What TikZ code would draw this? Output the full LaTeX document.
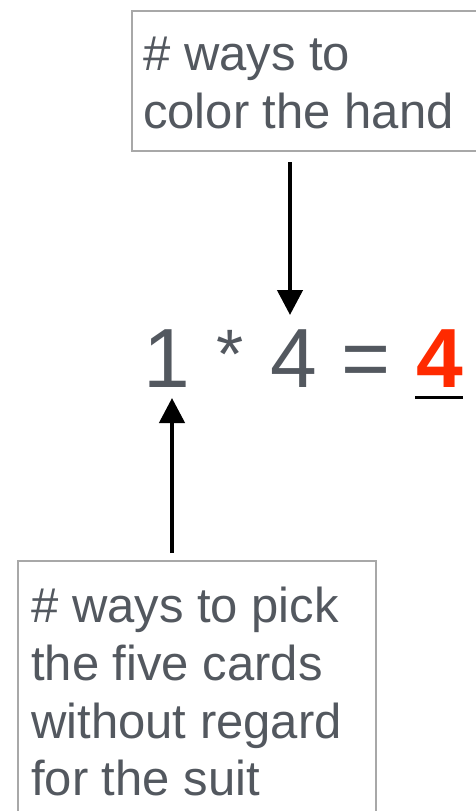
\documentclass[tikz,border=0pt]{standalone}
\usepackage{fontspec}
\setmainfont{Liberation Sans}
\usetikzlibrary{arrows.meta}
\definecolor{txtgray}{HTML}{53585F}
\definecolor{boxgray}{HTML}{A8A8A8}
\definecolor{ansred}{HTML}{FF2A00}
\tikzset{
  box/.style={draw=boxgray, line width=2pt, fill=white, rectangle, inner sep=0pt, anchor=north west},
  lbl/.style={text=txtgray, font=\fontsize{49}{58}\selectfont, inner sep=0pt, anchor=base west},
  eq/.style={text=txtgray, font=\fontsize{84}{100}\selectfont, inner sep=0pt, anchor=base},
  arr/.style={line width=4.5pt, -{Triangle[width=25pt,length=25pt]}},
}
\begin{document}
\begin{tikzpicture}[x=1pt,y=-1pt]
\useasboundingbox (0,0) rectangle (476,811);
\clip (0,0) rectangle (476,811);
% top box
\node[box, minimum width=360pt, minimum height=140pt] (topbox) at (131,10) {};
\node[lbl] (t1) at (143,70) {\# ways to};
\node[lbl] (t2) at (143,128) {color the hand};
% bottom box
\node[box, minimum width=358pt, minimum height=280pt] (botbox) at (17,560) {};
\node[lbl] (b1) at (31,622) {\# ways to pick};
\node[lbl] (b2) at (31,680) {the five cards};
\node[lbl] (b3) at (31,738) {without regard};
\node[lbl] (b4) at (31,795) {for the suit};
% equation
\node[eq] (one) at (167,387) {1};
\node[eq, font=\fontsize{70}{80}\selectfont] (star) at (230,378) {*};
\node[eq] (four) at (293.5,387) {4};
\node[eq] (eqs) at (366.5,387) {=};
\node[eq, text=ansred, font=\fontsize{84}{100}\selectfont\bfseries] (ans) at (440,387) {4};
\draw[line width=3pt, black] (415,397) -- (463,397);
% arrows
\coordinate (a1s) at (290,162);
\coordinate (a1e) at (290,315);
\coordinate (a2s) at (172,553);
\coordinate (a2e) at (172,398);
\draw[arr] (a1s) -- (a1e);
\draw[arr] (a2s) -- (a2e);
\end{tikzpicture}
\end{document}
